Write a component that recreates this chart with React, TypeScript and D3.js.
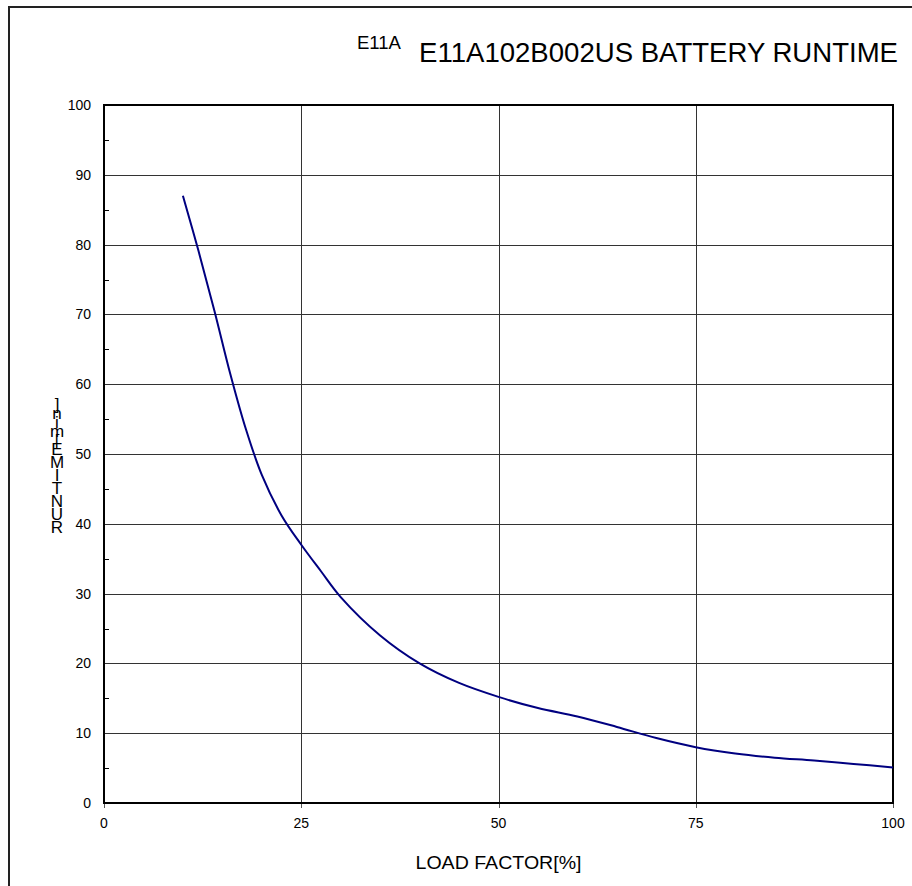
import * as d3 from "d3";

// curve (load factor %, runtime min)
const loadFactor = [10, 12, 14, 16, 18, 20, 22.5, 25, 27.5, 30, 35, 40, 45, 50, 55, 60, 65, 70, 75, 80, 85, 90, 95, 100];
const runtime = [87, 79, 70.5, 61.5, 53.5, 47, 41.2, 37, 33.2, 29.5, 24, 20, 17.2, 15.2, 13.6, 12.4, 10.9, 9.3, 8, 7.1, 6.5, 6.1, 5.6, 5.1];

const xTicks = [0, 25, 50, 75, 100];
const yTicks = [0, 10, 20, 30, 40, 50, 60, 70, 80, 90, 100];
const yMinor = [5, 15, 25, 35, 45, 55, 65, 75, 85, 95];

const title = "E11A102B002US BATTERY RUNTIME";
const titleStub = "E11A";
const xLabel = "LOAD FACTOR[%]";
const yLabel = "RUNTIME[min]";

const W = 912;
const H = 886;
const FONT = "'Liberation Sans', Arial, sans-serif";

export default function App() {
  const x = d3.scaleLinear().domain([0, 100]).range([104, 893]);
  const y = d3.scaleLinear().domain([0, 100]).range([803, 105]);

  const pts = loadFactor.map((v, i) => [v, runtime[i]] as [number, number]);
  const line = d3
    .line<[number, number]>()
    .x((d) => x(d[0]))
    .y((d) => y(d[1]))
    .curve(d3.curveCatmullRom.alpha(0.5));

  // vertical y label: upright glyphs stacked bottom to top
  const chars = yLabel.split("");
  const ys: number[] = [];
  let cy = 533;
  chars.forEach((c, i) => {
    if (i > 0) cy -= /[A-Z]/.test(c) ? 13 : 9;
    ys.push(cy);
  });

  return (
    <svg
      width={W}
      height={H}
      style={{ position: "absolute", left: 0, top: 0, background: "#fff" }}
      fontFamily={FONT}
    >
      {/* outer frame */}
      <path d={`M9,${H} V7 H${W}`} fill="none" stroke="#222" strokeWidth={2} />

      {/* titles */}
      <text x={357} y={49} fontSize={19} textLength={44} lengthAdjust="spacingAndGlyphs" fill="#000">
        {titleStub}
      </text>
      <text x={419} y={62} fontSize={27} textLength={479} lengthAdjust="spacingAndGlyphs" fill="#000">
        {title}
      </text>

      {/* grid */}
      {yTicks.slice(1, -1).map((t) => (
        <line key={"gy" + t} x1={x(0)} x2={x(100)} y1={Math.round(y(t)) + 0.5} y2={Math.round(y(t)) + 0.5} stroke="#333" strokeWidth={1} />
      ))}
      {xTicks.slice(1, -1).map((t) => (
        <line key={"gx" + t} x1={Math.round(x(t)) + 0.5} x2={Math.round(x(t)) + 0.5} y1={y(100)} y2={y(0)} stroke="#333" strokeWidth={1} />
      ))}

      {/* minor ticks on y axis */}
      {yMinor.map((t) => (
        <line key={"my" + t} x1={x(0)} x2={x(0) + 5} y1={Math.round(y(t)) + 0.5} y2={Math.round(y(t)) + 0.5} stroke="#000" strokeWidth={1} />
      ))}
      {/* x ticks below axis */}
      {xTicks.map((t) => (
        <line key={"tx" + t} x1={Math.round(x(t)) + 0.5} x2={Math.round(x(t)) + 0.5} y1={y(0)} y2={y(0) + 5} stroke="#555" strokeWidth={1} />
      ))}

      {/* plot border */}
      <rect x={x(0)} y={y(100)} width={x(100) - x(0)} height={y(0) - y(100)} fill="none" stroke="#000" strokeWidth={2} />

      {/* curve */}
      <path d={line(pts) ?? ""} fill="none" stroke="#000080" strokeWidth={2} />

      {/* tick labels */}
      {yTicks.map((t) => (
        <text key={"ly" + t} x={91} y={y(t) + 5} fontSize={14} textAnchor="end" fill="#000">
          {t}
        </text>
      ))}
      {xTicks.map((t) => (
        <text key={"lx" + t} x={x(t)} y={828} fontSize={14} textAnchor="middle" fill="#000">
          {t}
        </text>
      ))}

      {/* axis titles */}
      <text x={x(50)} y={869} fontSize={18} textAnchor="middle" textLength={166} lengthAdjust="spacingAndGlyphs" fill="#000">
        {xLabel}
      </text>
      {chars.map((c, i) => (
        <text key={"yc" + i} x={57} y={ys[i]} fontSize={17} textAnchor="middle" fill="#000">
          {c}
        </text>
      ))}
    </svg>
  );
}
